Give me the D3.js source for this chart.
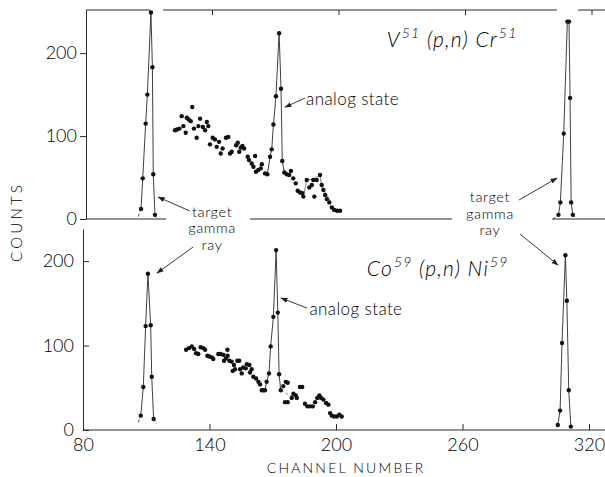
<!DOCTYPE html>
<html>
<head>
<meta charset="utf-8">
<script src="https://cdn.jsdelivr.net/npm/d3@7"></script>
<style>
body { margin: 0; background: #fff; }
text { font-family: Lato, "DejaVu Sans", sans-serif; font-weight: 300; fill: #000; }
</style>
</head>
<body>
<div class="chart"></div>
<script>
const WIDTH = 605;
const HEIGHT = 477;
const DOT = 2.2;

// channel / counts
const xTicks = [80, 140, 200, 260, 320];
const xFrameTicks = [140, 200, 260, 320];
const yTicks = [0, 100, 200];

const topLeftPeak = [[106.1,12],[106.9,49],[108.3,115],[109.1,150],[110.8,249],[111.5,183],[111.9,54],[112.7,5]];
const topLeftTails = [[[104.8,3],[106.1,12]], [[112.7,5],[113.4,1]]];
const topRightPeak = [[304.1,5],[305.0,20],[306.6,103],[308.3,238],[309.1,238],[309.6,146],[310.1,20],[310.9,5]];
const topRightTails = [[[301.6,0],[304.1,5]], [[310.9,5],[312.8,0]]];
const topSpectrum = [[122.2,107],[123.2,108],[124.3,109],[125.4,124],[126.2,112],[127.3,104],[127.8,122],[128.7,120],
  [129.7,118],[130.4,135],[131.2,109],[132.5,98],[133.3,112],[134.1,121],[135.4,111],[136.5,107],[137.3,117],[138.0,112],
  [138.8,90],[140.1,98],[141.2,96],[142.0,87],[143.1,93],[143.9,79],[144.8,85],[146.4,98],[147.5,99],[148.3,79],[149.1,81],
  [151.2,89],[152.0,92],[152.7,81],[153.4,86],[154.2,88],[155.0,85],[156.7,75],[157.3,71],[158.6,67],[159.4,63],[160.2,76],
  [160.6,57],[161.7,59],[162.9,61],[163.4,66],[164.9,55],[166.0,54],[167.3,75],[168.1,84],[168.9,114],[170.1,148],
  [171.6,224],[172.5,157],[173.1,70],[174.1,56],[175.2,54],[176.4,53],[177.2,58],[178.3,49],[179.5,43],[180.4,34],
  [181.5,32],[182.6,31],[183.1,27],[184.7,47],[185.9,38],[187.1,41],[187.8,47],[188.3,27],[189.4,47],[191.0,53],
  [191.8,41],[192.6,35],[193.4,29],[194.2,24],[195.4,20],[196.6,14],[197.7,11],[199.1,10],[200.5,10]];
const topAnalogRange = [164.9, 174.1];
const topBumpLine = [[183.1,27],[184.7,47],[187.6,48],[189.8,51],[191.0,52],[191.8,39],[193.4,32],[196.1,21]];

const botLeftPeak = [[107.4,17],[108.6,51],[109.7,123],[110.8,185],[112.1,124],[112.6,63],[113.5,13]];
const botLeftTails = [[[106.2,9],[107.4,17]], [[113.5,13],[115.0,7]]];
const botRightPeak = [[305.2,6],[306.3,23],[307.2,103],[308.8,207],[309.5,153],[310.4,47],[311.4,4]];
const botSpectrum = [[128.9,95],[130.3,97],[131.6,99],[132.7,96],[133.6,91],[134.7,90],[135.8,98],[137.1,97],[137.9,95],
  [139.0,88],[139.9,87],[141.1,86],[141.8,84],[144.2,90],[145.3,90],[146.6,89],[146.9,82],[147.8,85],[148.6,88],[148.5,95],
  [149.4,82],[150.5,81],[151.0,70],[151.6,77],[152.1,72],[153.2,82],[154.1,82],[154.5,72],[155.3,67],[156.0,74],[157.2,73],
  [157.7,78],[158.9,77],[159.2,68],[160.0,72],[160.8,63],[162.1,61],[163.2,57],[164.0,54],[164.8,47],[165.5,47],[166.3,47],
  [167.1,57],[168.2,67],[169.0,99],[170.3,134],[171.6,213],[172.4,139],[173.0,66],[173.8,47],[175.0,52],[176.2,57],
  [177.1,56],[175.8,33],[177.1,33],[179.0,38],[179.8,43],[180.9,41],[181.4,38],[182.9,51],[184.0,51],[185.3,31],[186.4,28],
  [187.7,28],[189.0,28],[190.1,33],[191.1,38],[192.1,41],[192.9,38],[194.0,36],[195.3,32],[196.4,30],[197.2,20],[198.0,17],
  [199.1,16],[200.4,16],[201.6,18],[202.7,16]];
const botAnalogRange = [166.3, 173.8];
const botTailLine = [[173.8,47],[176.5,43],[179.5,40]];

// frame pieces (channel ranges) of the upper panel, broken around peaks and labels
const topFrameTop = [[80,110.4],[116.5,303.4],[313.4,326.2]];
const topFrameBottom = [[80,118.0],[157.8,253.6],[301.1,326.2]];
const botAxisEnd = 327.6;

var translate = function (x, y) {
  return 'translate(' + x + ',' + y + ')';
};

var topX = d3.scaleLinear().domain([80, 320]).range([86, 592]);
var topY = d3.scaleLinear().domain([0, 252]).range([219, 10]);
var botX = d3.scaleLinear().domain([80, 320]).range([83, 589]);
var botY = d3.scaleLinear().domain([0, 238]).range([430, 229]);

var svg = d3.select('.chart').append('svg')
  .attr('width', WIDTH)
  .attr('height', HEIGHT);

svg.append('defs').append('marker')
  .attr('id', 'arrow')
  .attr('viewBox', '0 0 10 10')
  .attr('refX', 9).attr('refY', 5)
  .attr('markerWidth', 8).attr('markerHeight', 8)
  .attr('orient', 'auto')
  .append('path')
  .attr('d', 'M0,1.5L10,5L0,8.5Z')
  .attr('fill', '#222');

var lineOf = function (x, y) {
  return d3.line().x(function (d) { return x(d[0]); }).y(function (d) { return y(d[1]); });
};

var drawCurve = function (g, x, y, pts, dashed, width) {
  g.append('path')
    .attr('d', lineOf(x, y)(pts))
    .attr('fill', 'none')
    .attr('stroke', '#2a2a2a')
    .attr('stroke-width', width || 0.9)
    .attr('stroke-dasharray', dashed ? '3,2.5' : null);
};

var drawDots = function (g, x, y, pts) {
  g.selectAll(null).data(pts).enter().append('circle')
    .attr('r', DOT)
    .attr('cx', function (d) { return x(d[0]); })
    .attr('cy', function (d) { return y(d[1]); })
    .attr('fill', '#111');
};

var inRange = function (pts, r) {
  return pts.filter(function (d) { return d[0] >= r[0] && d[0] <= r[1]; })
    .sort(function (a, b) { return a[0] - b[0]; });
};

var styleTicks = function (g) {
  g.selectAll('.tick line').attr('stroke', '#2a2a2a');
  g.selectAll('.tick text')
    .attr('font-size', 18).attr('fill', '#000')
    .attr('font-family', 'Lato, "DejaVu Sans", sans-serif').attr('font-weight', 300);
};

var drawYAxis = function (x, y, size) {
  var g = svg.append('g')
    .attr('transform', translate(x.range()[0], 0))
    .call(d3.axisLeft(y).tickValues(yTicks).tickSize(size).tickSizeOuter(0).tickPadding(size > 0 ? 3 : 9));
  g.select('.domain').attr('stroke', '#2a2a2a');
  styleTicks(g);
};

var drawSegments = function (x, yPix, segs) {
  svg.append('g').selectAll(null).data(segs).enter().append('line')
    .attr('x1', function (d) { return x(d[0]); })
    .attr('x2', function (d) { return x(d[1]); })
    .attr('y1', yPix).attr('y2', yPix)
    .attr('stroke', '#2a2a2a').attr('stroke-width', 1);
};

var drawArrow = function (x, y, a) {
  svg.append('line')
    .attr('x1', x(a[0][0])).attr('y1', y(a[0][1]))
    .attr('x2', x(a[1][0])).attr('y2', y(a[1][1]))
    .attr('stroke', '#222').attr('stroke-width', 0.9)
    .attr('marker-end', 'url(#arrow)');
};

// one text per line so the three words of a label stay apart
var stackedLabel = function (x, y, at, lines) {
  lines.forEach(function (s, i) {
    svg.append('text')
      .attr('x', x(at[0])).attr('y', y(at[1]) + i * 16.7)
      .attr('text-anchor', 'middle')
      .attr('font-size', 14.5).attr('letter-spacing', 0.6)
      .text(s);
  });
};

var reaction = function (x, y, at, parts) {
  var t = svg.append('text')
    .attr('x', x(at[0])).attr('y', y(at[1]))
    .attr('font-size', 21).attr('font-style', 'italic').attr('letter-spacing', 1.2);
  parts.forEach(function (p) {
    if (p.sup) {
      t.append('tspan').attr('dx', 1).attr('dy', -9).attr('font-size', 14).text(p.sup);
      t.append('tspan').attr('dy', 9).text('\u00a0');
    } else {
      t.append('tspan').text(p.txt);
    }
  });
};

// ---------- upper panel: V51(p,n)Cr51 ----------
var topG = svg.append('g');
drawYAxis(topX, topY, 6);
drawSegments(topX, topY(252), topFrameTop);
drawSegments(topX, topY(0), topFrameBottom);
svg.append('g').selectAll(null).data(xFrameTicks).enter().append('line')
  .attr('x1', function (d) { return topX(d); }).attr('x2', function (d) { return topX(d); })
  .attr('y1', topY(252)).attr('y2', topY(252) + 5)
  .attr('stroke', '#2a2a2a');

drawCurve(topG, topX, topY, topLeftPeak);
topLeftTails.forEach(function (t) { drawCurve(topG, topX, topY, t, true); });
drawCurve(topG, topX, topY, topRightPeak);
topRightTails.forEach(function (t) { drawCurve(topG, topX, topY, t, true); });
drawCurve(topG, topX, topY, inRange(topSpectrum, topAnalogRange));
drawCurve(topG, topX, topY, topBumpLine, false, 0.6);
drawDots(topG, topX, topY, topLeftPeak);
drawDots(topG, topX, topY, topRightPeak);
drawDots(topG, topX, topY, topSpectrum);

// ---------- lower panel: Co59(p,n)Ni59 ----------
var botG = svg.append('g');
drawYAxis(botX, botY, -6);
drawSegments(botX, botY(0), [[80, botAxisEnd]]);
var xAxis = svg.append('g')
  .attr('transform', translate(0, botY(0)))
  .call(d3.axisBottom(botX).tickValues(xTicks).tickSize(-6).tickSizeOuter(0).tickPadding(8));
xAxis.select('.domain').remove();
styleTicks(xAxis);

drawCurve(botG, botX, botY, botLeftPeak);
botLeftTails.forEach(function (t) { drawCurve(botG, botX, botY, t, true); });
drawCurve(botG, botX, botY, botRightPeak);
drawCurve(botG, botX, botY, inRange(botSpectrum, botAnalogRange));
drawCurve(botG, botX, botY, botTailLine, true, 0.6);
drawDots(botG, botX, botY, botLeftPeak);
drawDots(botG, botX, botY, botRightPeak);
drawDots(botG, botX, botY, botSpectrum);

// ---------- annotations ----------
reaction(topX, topY, [222.7, 207], [{txt: 'V'}, {sup: '51'}, {txt: '(p,n)\u00a0Cr'}, {sup: '51'}]);
reaction(botX, botY, [214.6, 182], [{txt: 'Co'}, {sup: '59'}, {txt: '(p,n)\u00a0Ni'}, {sup: '59'}]);

svg.append('text').attr('x', topX(184.4)).attr('y', topY(137.3))
  .attr('font-size', 17).attr('letter-spacing', 0.4).text('analog state');
svg.append('text').attr('x', botX(187.4)).attr('y', botY(136.1))
  .attr('font-size', 17).attr('letter-spacing', 0.4).text('analog state');
drawArrow(topX, topY, [[183.9, 145.8], [174.4, 134.9]]);
drawArrow(botX, botY, [[186.3, 144.4], [173.9, 156.2]]);

stackedLabel(topX, topY, [139.8, 3.0], ['target', 'gamma', 'ray']);
stackedLabel(topX, topY, [271.6, 20.5], ['target', 'gamma', 'ray']);
drawArrow(topX, topY, [[129.3, 9.6], [114.2, 26.5]]);
drawArrow(topX, topY, [[285.4, 22.9], [303.4, 49.4]]);
drawArrow(botX, botY, [[132.2, 216.6], [115.1, 185.8]]);
drawArrow(botX, botY, [[287.3, 232], [305.3, 195.3]]);

// axis titles
svg.append('text')
  .attr('x', botX(204.8)).attr('y', botY(0) + 43)
  .attr('text-anchor', 'middle')
  .attr('font-size', 14).attr('letter-spacing', 2.2)
  .text('CHANNEL NUMBER');

svg.append('text')
  .attr('transform', translate(22, 222) + ' rotate(-90)')
  .attr('text-anchor', 'middle')
  .attr('font-size', 15).attr('letter-spacing', 3.2)
  .text('COUNTS');
</script>
</body>
</html>
